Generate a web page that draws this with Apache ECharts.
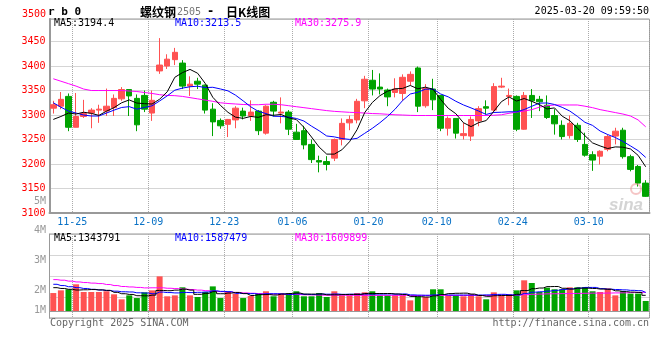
<!DOCTYPE html>
<html><head><meta charset="utf-8">
<script src="https://cdn.jsdelivr.net/npm/echarts@6/dist/echarts.min.js"></script>
<style>html,body{margin:0;padding:0;background:#fff}#c{width:660px;height:360px}</style>
</head><body><div id="c"></div>
<script>
const dates = ['2024-11-20','2024-11-21','2024-11-22','2024-11-25','2024-11-26','2024-11-27','2024-11-28','2024-11-29',
'2024-12-02','2024-12-03','2024-12-04','2024-12-05','2024-12-06','2024-12-09','2024-12-10','2024-12-11','2024-12-12','2024-12-13',
'2024-12-16','2024-12-17','2024-12-18','2024-12-19','2024-12-20','2024-12-23','2024-12-24','2024-12-25','2024-12-26','2024-12-27',
'2024-12-30','2024-12-31','2025-01-02','2025-01-03','2025-01-06','2025-01-07','2025-01-08','2025-01-09','2025-01-10',
'2025-01-13','2025-01-14','2025-01-15','2025-01-16','2025-01-17','2025-01-20','2025-01-21','2025-01-22','2025-01-23','2025-01-24',
'2025-01-27','2025-02-05','2025-02-06','2025-02-07','2025-02-10','2025-02-11','2025-02-12','2025-02-13','2025-02-14',
'2025-02-17','2025-02-18','2025-02-19','2025-02-20','2025-02-21','2025-02-24','2025-02-25','2025-02-26','2025-02-27','2025-02-28',
'2025-03-03','2025-03-04','2025-03-05','2025-03-06','2025-03-07','2025-03-10','2025-03-11','2025-03-12','2025-03-13','2025-03-14',
'2025-03-17','2025-03-18','2025-03-19'];
const tickDates = ['11-25','12-09','12-23','01-06','01-20','02-10','02-24','03-10'];
const priceTicks = [3100,3150,3200,3250,3300,3350,3400,3450];

const openP = [3314,3318,3338,3275,3297,3304,3310,3308,3315,3333,
3352,3334,3340,3304,3390,3400,3413,3406,3359,3369,
3361,3312,3289,3281,3290,3308,3298,3308,3263,3326,
3304,3306,3265,3268,3240,3207,3205,3212,3250,3284,
3290,3329,3371,3357,3351,3346,3344,3369,3396,3319,
3353,3340,3273,3293,3258,3257,3288,3317,3310,3357,
3338,3338,3271,3340,3332,3320,3299,3279,3258,3279,
3240,3219,3216,3230,3257,3269,3215,3195,3161];
const closeP = [3321,3332,3275,3297,3303,3310,3312,3318,3334,3352,
3339,3280,3312,3330,3402,3414,3428,3359,3363,3363,
3310,3286,3278,3291,3314,3298,3306,3268,3318,3308,
3306,3271,3250,3239,3209,3204,3199,3250,3283,3291,
3328,3373,3353,3353,3337,3353,3377,3383,3318,3354,
3331,3273,3293,3263,3262,3291,3313,3314,3358,3359,
3340,3271,3340,3329,3327,3295,3282,3256,3283,3250,
3218,3208,3226,3256,3267,3215,3189,3161,3134];
const lowP = [3303,3312,3267,3275,3294,3273,3284,3298,3298,3329,
3298,3267,3306,3288,3384,3394,3402,3353,3339,3353,
3303,3257,3272,3255,3273,3291,3288,3259,3260,3297,
3283,3259,3249,3230,3202,3183,3187,3206,3238,3269,
3283,3314,3340,3342,3318,3336,3329,3361,3306,3315,
3310,3267,3258,3252,3250,3247,3277,3301,3305,3355,
3320,3267,3270,3294,3308,3292,3260,3250,3252,3245,
3215,3186,3199,3226,3240,3211,3185,3154,3133];
const highP = [3329,3347,3344,3345,3331,3314,3321,3354,3342,3357,
3352,3342,3350,3350,3457,3424,3437,3412,3379,3376,
3362,3324,3293,3292,3318,3315,3330,3310,3320,3329,
3336,3310,3282,3278,3250,3217,3216,3252,3293,3299,
3333,3380,3392,3385,3354,3375,3383,3389,3399,3363,
3374,3341,3297,3293,3284,3297,3318,3330,3365,3376,
3354,3340,3347,3353,3339,3340,3312,3289,3299,3284,
3264,3226,3228,3260,3274,3274,3219,3198,3167];

const ma5 = [3291,3297,3304,3302,3305.7,3303.4,3299.3,3307.8,3315.1,3325.0,
3330.8,3324.4,3323.2,3322.4,3332.3,3347.4,3377.0,3386.5,3393.1,3385.3,
3364.6,3336.2,3319.8,3305.5,3295.6,3293.2,3297.1,3295.2,3300.5,3299.5,
3301.1,3294.2,3290.7,3274.9,3255.1,3234.6,3220.2,3220.2,3229.0,3245.4,
3270.2,3305.0,3325.5,3339.4,3348.6,3353.5,3354.3,3360.3,3353.5,3356.9,
3352.5,3331.7,3313.8,3302.7,3284.3,3276.4,3284.4,3288.7,3307.6,3327.2,
3336.9,3328.5,3333.7,3327.9,3321.3,3312.4,3314.5,3297.7,3288.5,3273.2,
3257.8,3243.1,3236.9,3231.6,3234.9,3234.4,3230.7,3217.7,3194.4];
const ma10 = [3325,3316,3308,3304,3300,3298,3298,3304,3310,3315.4,
3317.1,3311.9,3315.5,3318.8,3328.7,3339.1,3350.7,3354.9,3357.7,3358.8,
3356.0,3356.6,3353.2,3349.3,3340.5,3328.9,3316.7,3307.5,3303.0,3297.5,
3297.1,3295.7,3293.0,3287.7,3277.3,3267.9,3257.2,3255.4,3252.0,3250.2,
3252.4,3262.6,3272.8,3284.2,3297.0,3311.9,3329.7,3342.9,3346.5,3352.7,
3353.0,3343.0,3337.1,3328.1,3320.6,3314.5,3308.1,3301.2,3305.2,3305.7,
3306.6,3306.5,3311.2,3317.8,3324.2,3324.6,3321.5,3315.7,3308.2,3297.3,
3285.1,3278.8,3267.3,3260.1,3254.1,3246.1,3236.9,3227.3,3213.5];
const ma30 = [3374,3369,3364,3359,3353,3350,3350,3350,3350,3350,
3349,3348,3346,3344,3341.5,3340,3339.5,3338,3335.5,3333,
3330.5,3328,3325,3323.5,3322.5,3321.5,3321,3321,3322,3322,
3321,3319,3317,3315,3313,3311,3309,3307.5,3306.5,3305.5,
3305,3304,3303,3302.5,3301.5,3300.5,3300,3299.3,3299,3299,
3299,3299,3299,3299,3299,3299,3299,3299,3299.5,3300.5,
3303.5,3306,3308,3311,3316,3319,3320.5,3320.5,3320.5,3320.5,
3318,3315,3311,3308,3305,3302,3298,3290,3275.9];

// volume in millions
const volM = [1.54,1.77,1.86,2.29,1.63,1.63,1.63,1.69,1.43,1.00,
1.34,1.11,1.60,1.77,2.97,1.26,1.34,2.03,1.34,1.20,
1.63,2.11,1.11,1.63,1.49,1.11,1.29,1.49,1.69,1.26,
1.51,1.54,1.69,1.26,1.26,1.54,1.20,1.69,1.34,1.34,
1.54,1.60,1.69,1.34,1.34,1.34,1.34,0.91,1.20,1.20,
1.86,1.86,1.34,1.34,1.26,1.43,1.26,1.00,1.60,1.34,
1.43,1.77,2.63,2.40,1.63,2.00,1.86,1.86,2.03,2.03,
2.03,1.69,1.63,1.94,1.34,1.69,1.49,1.49,0.86];
const vma5 = [2.00,1.93,1.86,1.80,1.82,1.84,1.81,1.77,1.60,1.48,
1.42,1.31,1.30,1.36,1.76,1.74,1.79,1.87,1.79,1.43,
1.51,1.66,1.48,1.54,1.59,1.49,1.33,1.40,1.41,1.37,
1.45,1.50,1.54,1.45,1.45,1.46,1.39,1.39,1.41,1.42,
1.42,1.50,1.50,1.50,1.50,1.46,1.41,1.25,1.23,1.20,
1.30,1.41,1.49,1.52,1.53,1.45,1.33,1.26,1.31,1.33,
1.33,1.43,1.75,1.91,1.97,2.09,2.10,1.95,1.88,1.96,
1.96,1.93,1.88,1.86,1.73,1.66,1.62,1.59,1.344];
const vma10 = [2.29,2.18,2.08,2.00,1.93,1.86,1.80,1.75,1.70,1.65,
1.63,1.56,1.54,1.48,1.62,1.58,1.55,1.59,1.58,1.60,
1.63,1.73,1.68,1.66,1.51,1.50,1.49,1.44,1.48,1.48,
1.47,1.41,1.47,1.43,1.41,1.45,1.44,1.46,1.43,1.44,
1.44,1.45,1.45,1.45,1.46,1.44,1.46,1.38,1.36,1.35,
1.38,1.41,1.37,1.37,1.37,1.37,1.37,1.38,1.42,1.43,
1.39,1.38,1.51,1.61,1.65,1.71,1.77,1.85,1.90,1.96,
2.02,2.02,1.92,1.87,1.84,1.81,1.77,1.74,1.587];
const vma30 = [2.69,2.64,2.56,2.49,2.44,2.39,2.35,2.27,2.18,2.10,
2.06,2.02,1.98,1.99,1.99,1.95,1.92,1.88,1.84,1.79,
1.74,1.70,1.66,1.62,1.59,1.55,1.52,1.49,1.47,1.45,
1.43,1.42,1.41,1.39,1.38,1.36,1.35,1.35,1.35,1.34,
1.34,1.34,1.34,1.34,1.34,1.34,1.34,1.33,1.33,1.33,
1.33,1.33,1.33,1.33,1.33,1.33,1.33,1.33,1.34,1.35,
1.35,1.37,1.40,1.43,1.45,1.47,1.48,1.49,1.50,1.51,
1.52,1.53,1.53,1.54,1.55,1.56,1.58,1.59,1.61];
const volTickLabels = [['5M',201],['4M',230.5],['3M',260.5],['2M',290.5],['1M',310.5]];

const mono = 'DejaVu Sans Mono';
const cjk = '"Noto Sans CJK SC"';
const UP = '#ff5252', DN = '#00a300';
const isLab = (v) => tickDates.indexOf(v.slice(5)) >= 0;

const candle = dates.map((d, i) => [openP[i], closeP[i], lowP[i], highP[i]]);
const volData = volM.map((v, i) => ({ value: v, itemStyle: { color: closeP[i] >= openP[i] ? UP : DN } }));

function txt(x, y, text, fill, font, align) {
  return { type: 'text', x: x, y: y, silent: true, z: 100,
    style: { text: text, fill: fill, font: font, textAlign: align || 'left', textVerticalAlign: 'middle', verticalAlign: 'middle' } };
}

const graphics = [
  txt(48, 12, 'r b 0', '#000', 'bold 11px ' + mono),
  txt(140, 12, '螺纹钢', '#000', 'bold 12px ' + cjk),
  txt(177, 12, '2505', '#777', '10px ' + mono),
  txt(207, 12, '-', '#000', 'bold 12px ' + mono),
  txt(226, 12, '日K线图', '#000', 'bold 12px ' + cjk),
  txt(649, 11, '2025-03-20 09:59:50', '#000', '10px ' + mono, 'right'),
  txt(46, 14, '3500', '#f00', '10px ' + mono, 'right'),
  txt(54, 23.5, 'MA5:' + ma5[ma5.length - 1].toFixed(1), '#000', '10px ' + mono),
  txt(175, 23.5, 'MA10:' + ma10[ma10.length - 1].toFixed(1), '#0000ff', '10px ' + mono),
  txt(295, 23.5, 'MA30:' + ma30[ma30.length - 1].toFixed(1), '#ff00ff', '10px ' + mono),
  txt(54, 238.5, 'MA5:1343791', '#000', '10px ' + mono),
  txt(175, 238.5, 'MA10:1587479', '#0000ff', '10px ' + mono),
  txt(295, 238.5, 'MA30:1609899', '#ff00ff', '10px ' + mono),
  txt(50, 323.5, 'Copyright 2025 SINA.COM', '#666', '10px ' + mono),
  txt(649, 323.5, 'http://finance.sina.com.cn', '#666', '10px ' + mono, 'right'),
  { type: 'circle', silent: true, z: 100, shape: { cx: 636, cy: 189, r: 5 }, style: { fill: 'none', stroke: 'rgba(235,140,140,0.5)', lineWidth: 2 } },
  txt(626, 205, 'sina', 'rgba(170,170,170,0.5)', 'italic bold 17px Arial', 'center')
].concat(volTickLabels.map(t => txt(46, t[1], t[0], '#999', '10px ' + mono, 'right')));

const splitX = { show: true, interval: (i, v) => isLab(v), lineStyle: { type: 'dotted', color: '#aaa', width: 1 } };

const option = {
  animation: false,
  backgroundColor: '#fff',
  grid: [
    { left: 49.5, top: 19, width: 600, height: 194, show: true, borderColor: '#999', borderWidth: 1 },
    { left: 49.5, top: 234, width: 600, height: 84, show: true, borderColor: '#999', borderWidth: 1 }
  ],
  xAxis: [
    { type: 'category', data: dates, gridIndex: 0, boundaryGap: true,
      axisLine: { lineStyle: { color: '#999', width: 2 } }, axisTick: { show: false },
      axisLabel: { interval: (i, v) => isLab(v), margin: 4,
        formatter: (v) => '{a|' + v.slice(5) + '}',
        rich: { a: { padding: [0, 7.6, 0, 0], color: '#0a72c6', fontFamily: mono, fontSize: 10 } } },
      splitLine: splitX },
    { type: 'category', data: dates, gridIndex: 1, boundaryGap: true,
      axisLine: { lineStyle: { color: '#999', width: 1 } }, axisTick: { show: false },
      axisLabel: { show: false }, splitLine: splitX }
  ],
  yAxis: [
    { type: 'value', gridIndex: 0, min: 3100, max: 3496, interval: 50,
      axisLine: { show: true, lineStyle: { color: '#999', width: 2 } }, axisTick: { show: false },
      axisLabel: { color: '#f00', fontFamily: mono, fontSize: 10, margin: 4,
        formatter: (v) => priceTicks.indexOf(v) >= 0 ? String(v) : '' },
      splitLine: { lineStyle: { type: 'dotted', color: '#aaa', width: 1 } } },
    { type: 'value', gridIndex: 1, min: -0.6, max: 6.6, interval: 1.8,
      axisLine: { show: true, lineStyle: { color: '#999', width: 1 } }, axisTick: { show: false },
      axisLabel: { show: false },
      splitLine: { lineStyle: { type: 'dotted', color: '#aaa', width: 1 } } }
  ],
  series: [
    { type: 'candlestick', xAxisIndex: 0, yAxisIndex: 0, data: candle, barWidth: 6,
      itemStyle: { color: UP, color0: DN, borderColor: UP, borderColor0: DN, borderWidth: 1 } },
    { type: 'line', xAxisIndex: 0, yAxisIndex: 0, data: ma30, symbol: 'none', z: 3, lineStyle: { color: '#ff00ff', width: 1 } },
    { type: 'line', xAxisIndex: 0, yAxisIndex: 0, data: ma10, symbol: 'none', z: 4, lineStyle: { color: '#0000ff', width: 1 } },
    { type: 'line', xAxisIndex: 0, yAxisIndex: 0, data: ma5, symbol: 'none', z: 5, lineStyle: { color: '#000000', width: 1 } },
    { type: 'bar', xAxisIndex: 1, yAxisIndex: 1, data: volData, barWidth: 6 },
    { type: 'line', xAxisIndex: 1, yAxisIndex: 1, data: vma30, symbol: 'none', step: 'middle', z: 3, lineStyle: { color: '#ff00ff', width: 1 } },
    { type: 'line', xAxisIndex: 1, yAxisIndex: 1, data: vma10, symbol: 'none', step: 'middle', z: 4, lineStyle: { color: '#0000ff', width: 1 } },
    { type: 'line', xAxisIndex: 1, yAxisIndex: 1, data: vma5, symbol: 'none', step: 'middle', z: 5, lineStyle: { color: '#000000', width: 1 } }
  ],
  graphic: graphics
};
const chart = echarts.init(document.getElementById('c'), null, { renderer: 'canvas' });
chart.setOption(option);
</script></body></html>
